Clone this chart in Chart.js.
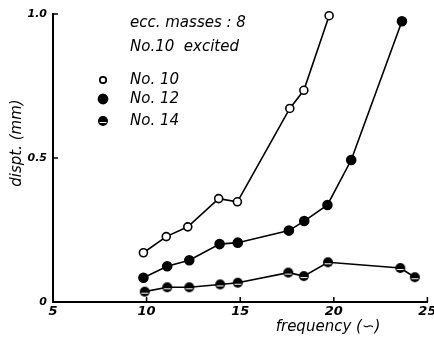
<!DOCTYPE html>
<html>
<head>
<meta charset="utf-8">
<script src="https://cdn.jsdelivr.net/npm/chart.js@4.4.0/dist/chart.umd.min.js"></script>
<style>
  body { margin: 0; background: #fff; }
  canvas { display: block; }
</style>
</head>
<body>
<canvas id="myChart" width="434" height="340"></canvas>
<script>
// frequency / displacement readings, one pair of arrays per mass
const freq10 = [9.83, 11.05, 12.2, 13.85, 14.85, 17.65, 18.4, 19.75];
const disp10 = [0.171, 0.227, 0.261, 0.359, 0.348, 0.672, 0.735, 0.994];

const freq12 = [9.83, 11.1, 12.28, 13.9, 14.87, 17.6, 18.42, 19.66, 20.93, 23.64];
const disp12 = [0.084, 0.124, 0.145, 0.201, 0.206, 0.248, 0.281, 0.337, 0.493, 0.975];

const freq14 = [9.9, 11.1, 12.28, 13.93, 14.87, 17.57, 18.4, 19.69, 23.55, 24.33];
const disp14 = [0.036, 0.051, 0.051, 0.061, 0.067, 0.102, 0.09, 0.138, 0.118, 0.086];

const seriesNames = ["No. 10", "No. 12", "No. 14"];
const xTicks = [5, 10, 15, 20, 25];
const yTickLabels = { 0: "0", 0.5: "0.5", 1: "1.0" };

const FONT = "'DejaVu Sans', sans-serif";

function Pairs(xs, ys) {
  let ans = [];
  for (let i = 0; i < xs.length; i++) {
    ans.push({ x: xs[i], y: ys[i] });
  }
  return ans;
}

// half-shaded marker used for No. 14
function HalfDot() {
  let c = document.createElement("canvas");
  c.width = 12;
  c.height = 12;
  let g = c.getContext("2d");
  g.beginPath();
  g.arc(6, 6, 5, 0, Math.PI * 2);
  g.fillStyle = "#000";
  g.fill();
  g.strokeStyle = "#fff";
  g.lineWidth = 1;
  g.beginPath();
  g.moveTo(2.5, 7.5);
  g.lineTo(9.5, 7.5);
  g.stroke();
  return c;
}
const halfDot = HalfDot();

const markers = [
  { style: "circle", bg: "#fff", radius: 4 },
  { style: "circle", bg: "#000", radius: 4.5 },
  { style: halfDot, bg: "#000", radius: 5 },
];

function Dataset(i, xs, ys) {
  return {
    label: seriesNames[i],
    data: Pairs(xs, ys),
    showLine: true,
    borderColor: "#000",
    borderWidth: 1.6,
    pointStyle: markers[i].style,
    pointRadius: markers[i].radius,
    pointBackgroundColor: markers[i].bg,
    pointBorderColor: "#000",
    pointBorderWidth: 1.6,
    clip: false,
  };
}

const extras = {
  id: "extras",
  afterDraw(chart) {
    const ctx = chart.ctx;
    const a = chart.chartArea;
    const xs = chart.scales.x;
    const ys = chart.scales.y;
    ctx.save();
    ctx.strokeStyle = "#000";
    ctx.lineWidth = 1.5;
    // inward tick marks
    xTicks.forEach((v) => {
      let px = xs.getPixelForValue(v);
      ctx.beginPath();
      ctx.moveTo(px, a.bottom);
      ctx.lineTo(px, a.bottom - 5);
      ctx.stroke();
    });
    [0.5, 1].forEach((v) => {
      let py = ys.getPixelForValue(v);
      ctx.beginPath();
      ctx.moveTo(a.left, py);
      ctx.lineTo(a.left + 5, py);
      ctx.stroke();
    });

    ctx.fillStyle = "#000";
    ctx.textBaseline = "middle";
    ctx.textAlign = "left";
    ctx.font = "italic 15px " + FONT;
    ctx.fillText("ecc. masses : 8", a.left + 77, 23);
    ctx.fillText("No.10  excited", a.left + 77, 47);

    // legend
    const rows = [80, 99, 121];
    for (let i = 0; i < 3; i++) {
      let mx = a.left + 50;
      let my = rows[i];
      if (i == 2) {
        ctx.drawImage(halfDot, mx - 6, my - 6);
      } else {
        ctx.beginPath();
        ctx.arc(mx, my, markers[i].radius - (i == 0 ? 0.8 : 0), 0, Math.PI * 2);
        ctx.fillStyle = markers[i].bg;
        ctx.fill();
        ctx.lineWidth = 1.8;
        ctx.stroke();
      }
      ctx.fillStyle = "#000";
      ctx.fillText(seriesNames[i], a.left + 77, my);
    }

    // axis titles
    ctx.font = "italic 15px " + FONT;
    ctx.textAlign = "center";
    ctx.fillText("frequency (∽)", 328, 327);
    ctx.translate(17, 143);
    ctx.rotate(-Math.PI / 2);
    ctx.fillText("dispt. (mm)", 0, 0);
    ctx.restore();
  },
};

const config = {
  type: "scatter",
  data: {
    datasets: [
      Dataset(0, freq10, disp10),
      Dataset(1, freq12, disp12),
      Dataset(2, freq14, disp14),
    ],
  },
  options: {
    responsive: false,
    animation: false,
    layout: { padding: { top: 14, right: 3, left: 0, bottom: 0 } },
    plugins: { legend: { display: false }, tooltip: { enabled: false } },
    scales: {
      x: {
        type: "linear",
        min: 5,
        max: 25,
        afterBuildTicks: (s) => {
          s.ticks = xTicks.map((v) => ({ value: v }));
        },
        afterFit: (s) => {
          s.height = 38;
          s.paddingLeft = 0;
          s.paddingRight = 0;
        },
        grid: { display: false, drawTicks: false },
        border: { display: true, color: "#000", width: 2 },
        ticks: {
          padding: 2,
          maxRotation: 0,
          color: "#000",
          font: { family: FONT, size: 13, style: "italic", weight: "bold" },
        },
      },
      y: {
        type: "linear",
        min: 0,
        max: 1,
        afterFit: (s) => {
          s.width = 53;
          s.paddingTop = 0;
          s.paddingBottom = 0;
        },
        grid: { display: false, drawTicks: false },
        border: { display: true, color: "#000", width: 2 },
        ticks: {
          stepSize: 0.5,
          padding: 6,
          color: "#000",
          font: { family: FONT, size: 11, style: "italic", weight: "bold" },
          callback: (v) => yTickLabels[v],
        },
      },
    },
  },
  plugins: [extras],
};

new Chart(document.getElementById("myChart"), config);
</script>
</body>
</html>
